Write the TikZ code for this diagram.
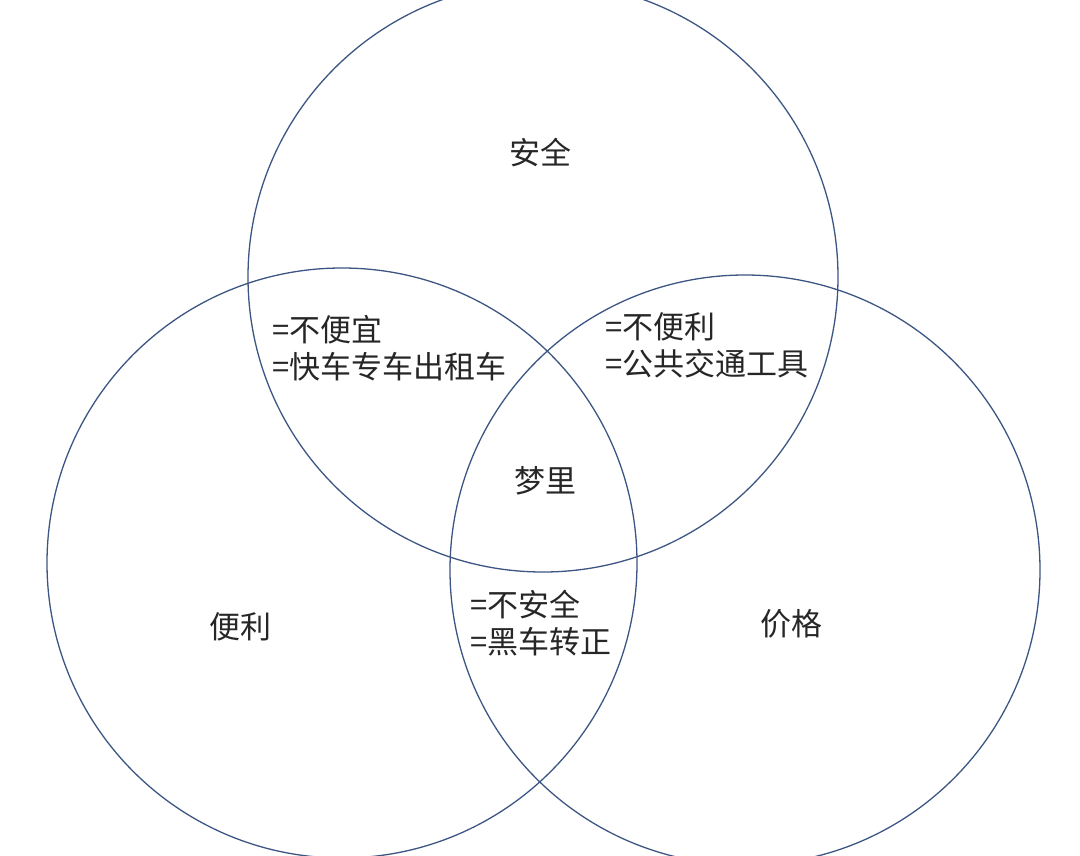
\documentclass[tikz,border=0pt]{standalone}
\usepackage{fontspec}
\newfontfamily\cjk{Noto Sans CJK SC}
\definecolor{ringc}{RGB}{60,85,130}
\begin{document}
\begin{tikzpicture}[x=1pt,y=-1pt,
  ring/.style={draw=ringc, line width=1.3pt},
  lbl/.style={font=\cjk\fontsize{31}{37}\selectfont, text=black!85, align=left, inner sep=0pt}]
\useasboundingbox (0,0) rectangle (1080,855);
\begin{scope}
\clip (0,0) rectangle (1080,855);
\draw[ring] (543,277) circle (295);
\draw[ring] (342,563) circle (295);
\draw[ring] (745,570) circle (295);
\end{scope}
\node[lbl] (a) at (540,152) {安全};
\node[lbl] (b) at (240,627) {便利};
\node[lbl] (c) at (791,624) {价格};
\node[lbl] (d) at (545,481) {梦里};
\node[lbl, anchor=west] (e) at (272,348) {=不便宜\\=快车专车出租车};
\node[lbl, anchor=west] (f) at (605,345) {=不便利\\=公共交通工具};
\node[lbl, anchor=west] (g) at (470,623) {=不安全\\=黑车转正};
\end{tikzpicture}
\end{document}
